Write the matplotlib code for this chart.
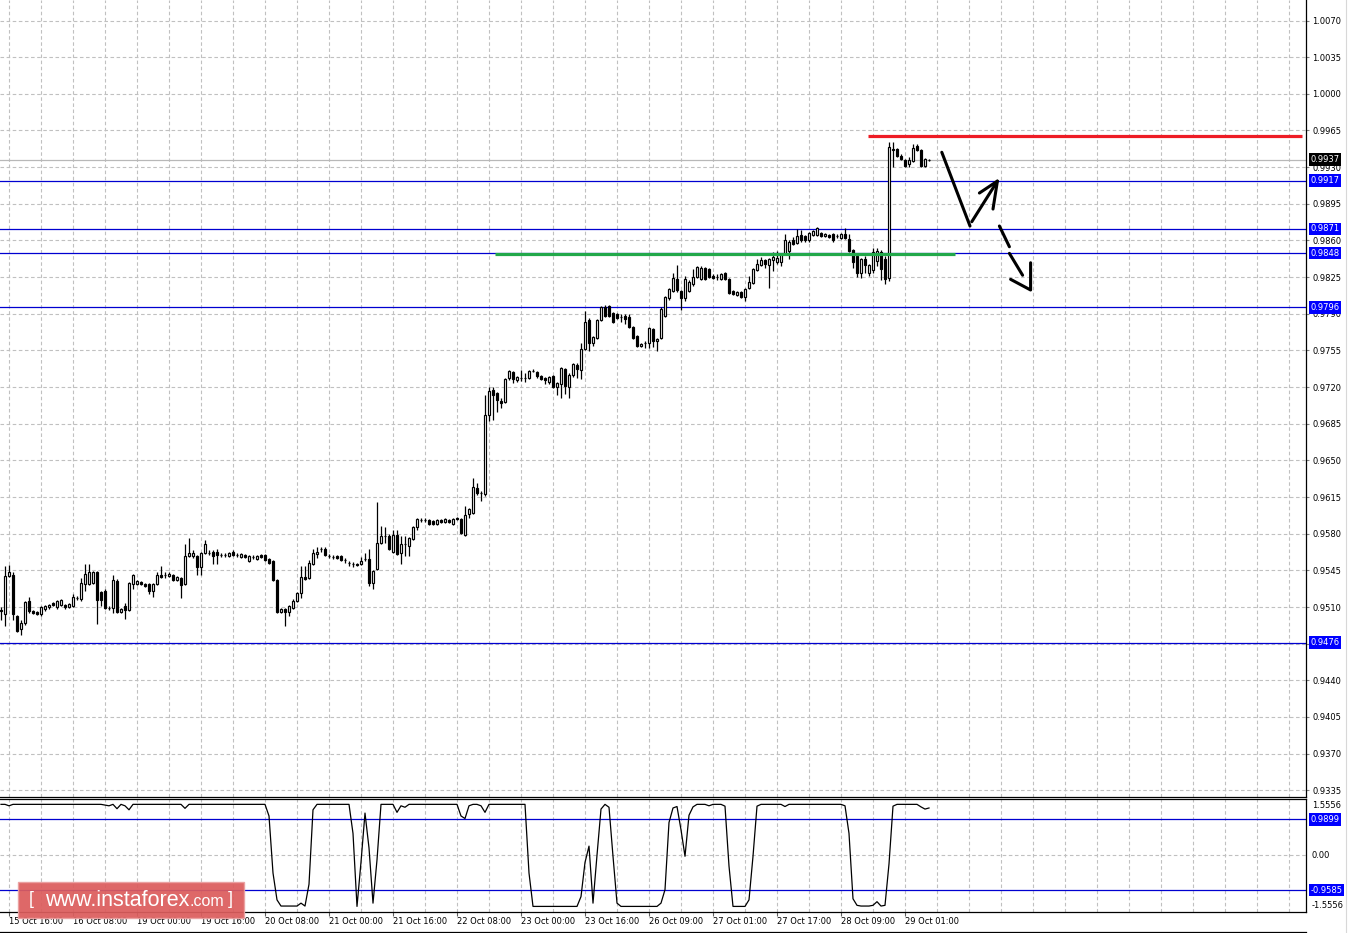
import matplotlib
matplotlib.use("Agg")
import matplotlib.pyplot as plt
import numpy as np
from matplotlib.patches import Rectangle
from matplotlib.lines import Line2D
import matplotlib.transforms as mtrans

# ---------------- data (USDCHF H1) ----------------
opens = [
 .9507,.9503,.9540,.9541,.9501,.9489,.9495,.9516,.9506,.9505,.9503,.9508,.9510,.9514,.9510,.9512,.9512,.9510,.9511,.9519,
 .9518,.9532,.9532,.9533,.9543,.9524,.9525,.9509,.9509,.9535,.9505,.9511,.9507,.9532,.9532,.9534,.9532,.9532,.9525,.9532,
 .9541,.9541,.9540,.9541,.9536,.9538,.9532,.9559,.9559,.9559,.9548,.9562,.9562,.9563,.9563,.9560,.9560,.9559,.9563,.9560,
 .9558,.9560,.9554,.9558,.9556,.9560,.9560,.9556,.9554,.9536,.9505,.9508,.9505,.9509,.9516,.9523,.9539,.9538,.9551,.9561,
 .9565,.9565,.9559,.9558,.9559,.9559,.9555,.9552,.9551,.9551,.9551,.9556,.9556,.9533,.9546,.9571,.9578,.9578,.9563,.9579,
 .9562,.9570,.9568,.9575,.9586,.9593,.9593,.9593,.9592,.9589,.9593,.9591,.9593,.9589,.9595,.9594,.9579,.9599,.9600,.9624,
 .9619,.9618,.9693,.9717,.9714,.9707,.9706,.9729,.9734,.9727,.9729,.9729,.9729,.9735,.9734,.9731,.9729,.9725,.9731,.9720,
 .9723,.9737,.9720,.9732,.9741,.9736,.9756,.9784,.9762,.9767,.9784,.9796,.9797,.9791,.9790,.9787,.9788,.9787,.9777,.9769,
 .9759,.9762,.9762,.9775,.9764,.9767,.9788,.9805,.9812,.9823,.9812,.9805,.9812,.9818,.9825,.9823,.9834,.9833,.9826,.9825,
 .9823,.9829,.9823,.9812,.9808,.9811,.9806,.9815,.9819,.9832,.9837,.9841,.9837,.9841,.9839,.9839,.9847,.9850,.9860,.9858,
 .9865,.9864,.9860,.9865,.9865,.9867,.9864,.9865,.9866,.9864,.9862,.9866,.9861,.9851,.9845,.9829,.9842,.9829,.9832,.9840,
 .9849,.9842,.9824,.9947,.9947,.9941,.9937,.9933,.9936,.9950,.9946,.9931,.9937]
highs = [
 .9510,.9549,.9550,.9543,.9502,.9498,.9516,.9520,.9507,.9506,.9511,.9512,.9513,.9515,.9517,.9518,.9513,.9514,.9522,.9521,
 .9538,.9551,.9551,.9544,.9544,.9525,.9527,.9511,.9541,.9537,.9509,.9514,.9534,.9542,.9536,.9535,.9533,.9533,.9533,.9543,
 .9549,.9543,.9543,.9542,.9540,.9539,.9570,.9576,.9564,.9560,.9563,.9574,.9564,.9564,.9565,.9562,.9562,.9563,.9564,.9562,
 .9562,.9561,.9560,.9560,.9560,.9561,.9561,.9557,.9555,.9537,.9509,.9509,.9512,.9518,.9524,.9549,.9549,.9555,.9565,.9567,
 .9567,.9567,.9561,.9560,.9560,.9560,.9557,.9554,.9553,.9552,.9558,.9562,.9565,.9545,.9610,.9587,.9586,.9580,.9584,.9584,
 .9578,.9578,.9577,.9587,.9595,.9595,.9595,.9594,.9593,.9594,.9594,.9595,.9594,.9595,.9596,.9595,.9606,.9605,.9633,.9628,
 .9621,.9712,.9720,.9720,.9715,.9710,.9729,.9736,.9735,.9731,.9736,.9733,.9736,.9737,.9735,.9732,.9730,.9731,.9732,.9725,
 .9739,.9738,.9733,.9743,.9743,.9762,.9793,.9786,.9769,.9785,.9797,.9798,.9798,.9792,.9791,.9790,.9790,.9790,.9778,.9770,
 .9762,.9764,.9777,.9776,.9767,.9796,.9807,.9815,.9829,.9837,.9813,.9826,.9822,.9833,.9836,.9836,.9835,.9834,.9828,.9828,
 .9829,.9830,.9824,.9813,.9812,.9812,.9815,.9826,.9834,.9842,.9844,.9842,.9843,.9849,.9850,.9848,.9866,.9860,.9863,.9871,
 .9870,.9865,.9868,.9870,.9873,.9868,.9867,.9866,.9867,.9866,.9867,.9872,.9866,.9852,.9846,.9843,.9845,.9838,.9853,.9853,
 .9851,.9845,.9954,.9954,.9948,.9943,.9938,.9940,.9952,.9952,.9947,.9939,.9938]
lows = [
 .9498,.9492,.9539,.9498,.9486,.9483,.9493,.9504,.9503,.9502,.9501,.9506,.9508,.9511,.9508,.9511,.9508,.9509,.9510,.9517,
 .9516,.9525,.9531,.9532,.9494,.9511,.9508,.9507,.9504,.9504,.9504,.9499,.9506,.9527,.9531,.9531,.9529,.9522,.9520,.9531,
 .9538,.9538,.9539,.9535,.9535,.9519,.9531,.9558,.9557,.9541,.9541,.9561,.9560,.9551,.9551,.9558,.9558,.9558,.9559,.9558,
 .9557,.9557,.9553,.9556,.9555,.9557,.9554,.9551,.9535,.9504,.9504,.9492,.9501,.9508,.9515,.9519,.9536,.9537,.9550,.9557,
 .9563,.9559,.9557,.9556,.9556,.9554,.9552,.9549,.9548,.9549,.9550,.9554,.9530,.9527,.9545,.9570,.9571,.9564,.9562,.9560,
 .9551,.9559,.9559,.9574,.9584,.9591,.9591,.9588,.9588,.9588,.9590,.9590,.9590,.9588,.9593,.9580,.9578,.9595,.9599,.9617,
 .9611,.9616,.9688,.9689,.9696,.9700,.9705,.9727,.9724,.9725,.9726,.9725,.9728,.9734,.9729,.9727,.9723,.9723,.9719,.9712,
 .9710,.9713,.9710,.9730,.9729,.9728,.9755,.9754,.9759,.9766,.9783,.9787,.9787,.9781,.9785,.9782,.9780,.9776,.9766,.9758,
 .9758,.9757,.9757,.9758,.9754,.9766,.9787,.9803,.9811,.9811,.9794,.9802,.9811,.9817,.9824,.9822,.9822,.9824,.9823,.9822,
 .9822,.9822,.9809,.9808,.9807,.9805,.9802,.9814,.9818,.9831,.9836,.9834,.9815,.9831,.9838,.9836,.9846,.9842,.9856,.9857,
 .9859,.9859,.9859,.9864,.9864,.9863,.9863,.9862,.9859,.9862,.9861,.9861,.9849,.9834,.9825,.9824,.9829,.9826,.9829,.9836,
 .9822,.9818,.9821,.9930,.9940,.9937,.9930,.9930,.9935,.9945,.9930,.9930,.9936]
closes = [
 .9506,.9540,.9543,.9503,.9487,.9495,.9515,.9506,.9504,.9503,.9510,.9511,.9512,.9512,.9516,.9517,.9510,.9513,.9520,.9519,
 .9533,.9542,.9543,.9543,.9517,.9517,.9509,.9509,.9536,.9505,.9508,.9507,.9533,.9541,.9535,.9532,.9530,.9525,.9532,.9541,
 .9539,.9541,.9542,.9536,.9539,.9531,.9559,.9562,.9562,.9548,.9562,.9570,.9562,.9559,.9560,.9560,.9560,.9562,.9560,.9560,
 .9561,.9558,.9559,.9558,.9559,.9558,.9555,.9552,.9536,.9505,.9508,.9505,.9511,.9516,.9523,.9539,.9537,.9552,.9562,.9563,
 .9565,.9560,.9559,.9558,.9557,.9555,.9555,.9552,.9551,.9550,.9554,.9556,.9533,.9544,.9571,.9578,.9578,.9565,.9579,.9561,
 .9570,.9570,.9576,.9586,.9594,.9593,.9593,.9589,.9589,.9593,.9591,.9594,.9591,.9594,.9594,.9581,.9598,.9604,.9625,.9619,
 .9619,.9693,.9716,.9712,.9708,.9705,.9728,.9735,.9728,.9730,.9729,.9729,.9735,.9735,.9731,.9728,.9727,.9730,.9720,.9724,
 .9738,.9721,.9732,.9742,.9737,.9756,.9782,.9762,.9768,.9784,.9796,.9788,.9788,.9782,.9786,.9787,.9785,.9777,.9767,.9759,
 .9761,.9762,.9776,.9764,.9766,.9795,.9806,.9814,.9824,.9813,.9805,.9823,.9820,.9825,.9835,.9834,.9823,.9825,.9824,.9825,
 .9828,.9823,.9810,.9809,.9811,.9806,.9814,.9820,.9833,.9838,.9841,.9838,.9842,.9844,.9843,.9847,.9860,.9859,.9857,.9864,
 .9860,.9860,.9867,.9869,.9872,.9864,.9866,.9863,.9860,.9864,.9866,.9862,.9850,.9839,.9829,.9842,.9837,.9837,.9849,.9850,
 .9833,.9823,.9949,.9946,.9941,.9938,.9931,.9937,.9948,.9946,.9931,.9938,.9937]

indicator = [
 1.40,1.40,1.36,1.40,1.40,1.40,1.40,1.40,1.40,1.40,1.40,1.40,1.40,1.40,1.40,1.40,1.40,1.40,1.40,1.40,
 1.40,1.40,1.40,1.40,1.40,1.40,1.38,1.36,1.40,1.28,1.40,1.36,1.25,1.40,1.40,1.40,1.40,1.40,1.40,1.40,
 1.40,1.40,1.40,1.40,1.40,1.40,1.29,1.40,1.40,1.40,1.40,1.40,1.40,1.40,1.40,1.40,1.40,1.40,1.40,1.40,
 1.40,1.40,1.40,1.40,1.40,1.40,1.40,1.08,-0.49,-1.23,-1.40,-1.40,-1.40,-1.40,-1.40,-1.32,-1.40,-0.80,1.25,1.40,
 1.40,1.40,1.40,1.40,1.40,1.40,1.40,1.40,0.60,-1.41,-0.19,1.16,0.20,-1.32,-0.13,1.40,1.40,1.40,1.40,1.18,
 1.36,1.32,1.40,1.40,1.40,1.40,1.40,1.40,1.40,1.40,1.40,1.40,1.40,1.40,1.40,1.08,1.01,1.36,1.40,1.40,
 1.36,1.18,1.40,1.40,1.40,1.40,1.40,1.40,1.40,1.40,1.40,1.40,-0.49,-1.41,-1.41,-1.41,-1.41,-1.41,-1.41,-1.41,
 -1.41,-1.41,-1.41,-1.41,-1.41,-1.14,-0.20,0.25,-1.32,0.00,1.27,1.40,1.32,-0.03,-1.32,-1.41,-1.41,-1.41,-1.41,-1.41,
 -1.41,-1.41,-1.41,-1.41,-1.41,-1.32,-0.95,0.90,1.30,1.34,0.70,-0.03,1.10,1.33,1.40,1.40,1.40,1.36,1.40,1.40,
 1.40,1.35,-0.30,-1.41,-1.41,-1.41,-1.41,-1.23,-0.03,1.35,1.40,1.40,1.40,1.40,1.40,1.40,1.34,1.40,1.40,1.40,
 1.40,1.40,1.40,1.40,1.40,1.40,1.40,1.40,1.40,1.40,1.40,1.36,0.60,-1.20,-1.38,-1.40,-1.40,-1.40,-1.38,-1.28,
 -1.40,-1.38,-0.24,1.35,1.40,1.40,1.40,1.40,1.40,1.40,1.33,1.27,1.30]

price_ticks = [1.0070, 1.0035, 1.0000, 0.9965, 0.9930, 0.9895, 0.9860, 0.9825, 0.9790, 0.9755,
               0.9720, 0.9685, 0.9650, 0.9615, 0.9580, 0.9545, 0.9510, 0.9475, 0.9440, 0.9405,
               0.9370, 0.9335]
time_labels = ["15 Oct 16:00", "16 Oct 08:00", "19 Oct 00:00", "19 Oct 16:00", "20 Oct 08:00",
               "21 Oct 00:00", "21 Oct 16:00", "22 Oct 08:00", "23 Oct 00:00", "23 Oct 16:00",
               "26 Oct 09:00", "27 Oct 01:00", "27 Oct 17:00", "28 Oct 09:00", "29 Oct 01:00"]
time_label_bars = [2, 18, 34, 50, 66, 82, 98, 114, 130, 146, 162, 178, 194, 210, 226]

level_lines = [0.9917, 0.9871, 0.9848, 0.9796, 0.9476]
bid_price = 0.9937
resistance = 0.9960          # red level
support = 0.9847             # green level
resistance_span = (216.75, 325.25)
support_span = (123.5, 238.5)
ind_levels = [0.9899, -0.9585]
ind_limit = 1.5556

# hand-drawn forecast arrows (bar index, price)
arrow_down1 = ([235.2, 242.25], [0.99442, 0.98738])
arrow_up = ([242.7, 249.1], [0.98779, 0.99167])
arrow_up_head = ([244.6, 249.1, 248.0], [0.99053, 0.99167, 0.98900])
arrow_dash1 = ([249.6, 252.1], [0.98738, 0.98540])
arrow_dash2 = ([252.1, 255.4], [0.98477, 0.98268])
arrow_dash_head = ([252.4, 257.4, 257.4], [0.98229, 0.98127, 0.98387])

# ---------------- figure ----------------
W, H = 1348, 933
fig = plt.figure(figsize=(W / 100, H / 100), dpi=100)
fig.patch.set_facecolor("white")


def rect(x0, y0, x1, y1):
    return [x0 / W, 1 - y1 / H, (x1 - x0) / W, (y1 - y0) / H]


ax = fig.add_axes(rect(0, 0, 1306, 796.7))
axi = fig.add_axes(rect(0, 798.7, 1306, 911.7))

n = len(closes)
idx = np.arange(n)
XMIN, XMAX = -0.25, 326.25
GRID = "#c0c0c0"
DASH = (0, (3.2, 2.3))
BLUE = "#0000d0"

for a in (ax, axi):
    a.set_xlim(XMIN, XMAX)
    a.set_facecolor("white")
    for s in ("left", "top"):
        a.spines[s].set_visible(False)
    a.spines["right"].set_linewidth(0.9)
    a.spines["bottom"].set_linewidth(0.9)
    for xv in np.arange(2, 327, 8):
        a.axvline(xv, color=GRID, lw=0.8, ls=DASH, zorder=1)

axi.spines["top"].set_visible(True)
axi.spines["top"].set_linewidth(0.9)

ax.set_ylim(0.93289, 1.00896)
for yv in price_ticks:
    ax.axhline(yv, color=GRID, lw=0.8, ls=DASH, zorder=1)

# bid line
ax.axhline(bid_price, color="#b8b8b8", lw=0.9, zorder=1.5)
# level lines
for lv in level_lines:
    ax.axhline(lv, color=BLUE, lw=0.9, zorder=2)

# candles
o = np.array(opens); c = np.array(closes); h = np.array(highs); l = np.array(lows)
ax.vlines(idx, l, h, color="black", lw=0.9, zorder=3)
up = c >= o
bottoms = np.minimum(o, c)
heights = np.maximum(np.abs(c - o), 0.000005)
ax.bar(idx, heights, bottom=bottoms, width=0.5,
       color=np.where(up, "white", "black"), edgecolor="black", linewidth=0.85, zorder=4)

# drawn levels
ax.plot(resistance_span, [resistance, resistance], color="#ee1c25", lw=2.3, zorder=5,
        solid_capstyle="butt")
ax.plot(support_span, [support, support], color="#22a84a", lw=2.3, zorder=5,
        solid_capstyle="butt")

# arrows
akw = dict(color="black", lw=2.2, zorder=6, solid_capstyle="round")
ax.plot(*arrow_down1, **akw)
ax.plot(*arrow_up, **akw)
ax.plot(*arrow_up_head, **akw)
ax.plot(*arrow_dash1, **akw)
ax.plot(*arrow_dash2, **akw)
ax.plot(*arrow_dash_head, **akw)

# right price axis
ax.yaxis.tick_right()
ax.set_yticks(price_ticks)
ax.set_yticklabels([f"{v:.4f}" for v in price_ticks])
ax.tick_params(axis="y", direction="out", length=2.2, width=0.8, color="#808080",
               labelsize=6, pad=2.5, labelcolor="black")
ax.set_xticks([])

bt = mtrans.blended_transform_factory(ax.transAxes, ax.transData)
x_box = 1 + 4.5 / 1306


def box(axis, trans, val, txt, fc):
    axis.text(x_box, val, txt, transform=trans, ha="left", va="center", fontsize=6,
              color="white", zorder=20, clip_on=False,
              bbox=dict(boxstyle="square,pad=0.22", fc=fc, ec="none"))


box(ax, bt, bid_price, f"{bid_price:.4f}", "black")
for lv in level_lines:
    box(ax, bt, lv, f"{lv:.4f}", "#0000ff")

# indicator panel
axi.set_ylim(-ind_limit, ind_limit)
axi.axhline(0, color=GRID, lw=0.8, ls=DASH, zorder=1)
for lv in ind_levels:
    axi.axhline(lv, color=BLUE, lw=0.9, zorder=2)
axi.plot(idx, indicator, color="black", lw=0.9, zorder=4)
axi.set_yticks([])
bti = mtrans.blended_transform_factory(axi.transAxes, axi.transData)
bta = axi.transAxes
axi.text(1 + 6 / 1306, (911.7 - 805) / 113, f"{ind_limit:.4f}", transform=bta, ha="left",
         va="center", fontsize=6, clip_on=False)
axi.text(1 + 6 / 1306, (911.7 - 905.5) / 113, f"-{ind_limit:.4f}", transform=bta, ha="left",
         va="center", fontsize=6, clip_on=False)
axi.text(1 + 6 / 1306, 0, "0.00", transform=bti, ha="left", va="center", fontsize=6,
         clip_on=False)
for lv in ind_levels:
    box(axi, bti, lv, f"{lv:.4f}", "#0000ff")

axi.set_xticks(time_label_bars)
axi.set_xticklabels(time_labels)
axi.tick_params(axis="x", direction="out", length=3, width=0.8, color="#606060",
                labelsize=6, pad=0.8)
for t in axi.get_xticklabels():
    t.set_ha("left")

# bottom frame line
fig.add_artist(Line2D([0, 1306 / W], [1 - 931.5 / H, 1 - 931.5 / H], color="black", lw=0.9))
fig.add_artist(Line2D([1346 / W, 1346 / W], [0, 1], color="#d8d8d8", lw=0.8))

# watermark
fig.add_artist(Rectangle((18 / W, 1 - 918 / H), 226 / W, 36 / H, transform=fig.transFigure,
                         fc="#dc5d5d", ec="#eaa0a0", lw=1.0, alpha=0.93, zorder=30))
t_open = fig.text(29 / W, 1 - 900 / H, "[", color="white", fontsize=13, family="Liberation Sans",
                  ha="left", va="center", zorder=31)
t_main = fig.text(45 / W, 1 - 900 / H, "www.instaforex", color="white", fontsize=15.5,
                  family="Liberation Sans", ha="left", va="center", zorder=31)
fig.canvas.draw()
ext = t_main.get_window_extent()
t_com = fig.text((ext.x1 + 0.5) / W, 1 - 902 / H, ".com", color="white", fontsize=11.5,
                 family="Liberation Sans", ha="left", va="center", zorder=31)
fig.canvas.draw()
ext2 = t_com.get_window_extent()
fig.text((ext2.x1 + 3) / W, 1 - 900 / H, "]", color="white", fontsize=13,
         family="Liberation Sans", ha="left", va="center", zorder=31)

fig.savefig("out.png", dpi=100, facecolor="white")
